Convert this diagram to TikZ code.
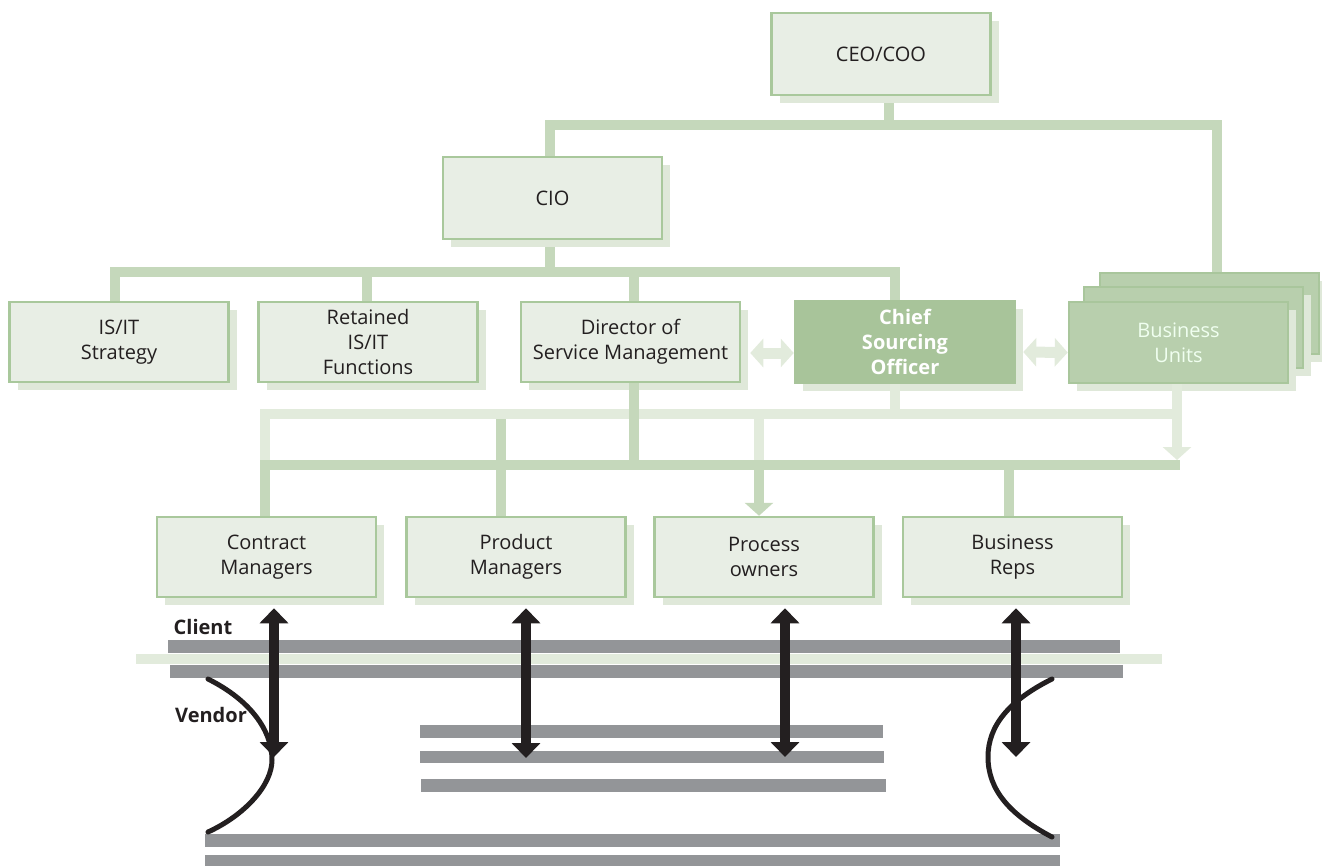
\documentclass[tikz,border=0pt]{standalone}
\usepackage{fontspec}
\setmainfont{Open Sans}
\usetikzlibrary{arrows.meta,shadows}
\definecolor{boxfill}{HTML}{E8EEE5}
\definecolor{boxline}{HTML}{A9C89C}
\definecolor{shade}{HTML}{DFE8D9}
\definecolor{csofill}{HTML}{A8C49A}
\definecolor{bufill}{HTML}{B8CFAD}
\definecolor{buline}{HTML}{A9C69C}
\definecolor{dkconn}{HTML}{C5D8BB}
\definecolor{ltconn}{HTML}{E2EBDC}
\definecolor{barg}{HTML}{939598}
\definecolor{ink}{HTML}{231F20}
\begin{document}
\begin{tikzpicture}[x=1pt,y=-1pt,
  box/.style={draw=boxline, line width=2.5pt, fill=boxfill,
    minimum width=219pt, minimum height=80pt, inner sep=0pt, align=center,
    text=ink, font=\fontsize{20}{25}\selectfont,
    general shadow={fill=shade, shadow xshift=8pt, shadow yshift=-8pt}},
  csobox/.style={draw=csofill, fill=csofill, text=white,
    font=\fontsize{20}{25}\selectfont\bfseries},
  bubox/.style={draw=buline, fill=bufill, text=white!94!green},
  dk/.style={draw=dkconn, line width=10pt, line join=miter},
  lt/.style={draw=ltconn, line width=10pt, line join=miter},
  ltarrow/.style={draw=ltconn, line width=11pt,
    {Triangle[width=28pt,length=13pt]}-{Triangle[width=28pt,length=13pt]}},
  blk/.style={draw=ink, line width=10pt,
    {Triangle[width=28pt,length=15pt]}-{Triangle[width=28pt,length=15pt]}},
  curve/.style={draw=ink, line width=5pt, line cap=round},
  side/.style={text=ink, font=\fontsize{20}{24}\selectfont\bfseries, inner sep=0pt}
]
\useasboundingbox (0,0) rectangle (1322,865);

% ---- client / vendor interface bars ----
\fill[barg] (168,640) rectangle (1120,653);
\fill[ltconn] (136,654) rectangle (1162,664);
\fill[barg] (170,665) rectangle (1123,678);
\fill[barg] (420,725) rectangle (883,738);
\fill[barg] (420,751) rectangle (884,763);
\fill[barg] (421,779) rectangle (886,792);
\fill[barg] (205,834) rectangle (1060,847);
\fill[barg] (205,855) rectangle (1060,868);

% ---- junction points ----
\coordinate (j1) at (889,125);
\coordinate (j2) at (550,272);
\coordinate (l1) at (265,414);
\coordinate (d1) at (265,465);

% ---- upper connectors (drawn first, boxes cover their ends) ----
\draw[dk] (j1) -- (889,96);
\draw[dk] (550,157) |- (j1) -| (1217,273);
\draw[dk] (550,239) -- (j2);
\draw[dk] (115,302) |- (j2) -| (895,302);
\draw[dk] (367,302) -- (367,272);
\draw[dk] (634,302) -- (634,272);

% ---- organisation boxes ----
\node[box, minimum height=82pt] (ceo) at (881,54) {CEO/COO};
\node[box, minimum height=82pt] (cio) at (552.5,198) {CIO};
\node[box] (strat) at (119,342) {IS/IT\\Strategy};
\node[box] (ret) at (368,342) {Retained\\IS/IT\\Functions};
\node[box] (dir) at (630.5,342) {Director of\\Service Management};
\node[box, csobox, minimum width=220pt, minimum height=82pt] (cso) at (905,342) {Chief\\Sourcing\\Officer};
\node[box, bubox, minimum height=81pt] (bu3) at (1209.5,313.5) {};
\node[box, bubox, minimum height=81pt] (bu2) at (1193.5,327.5) {};
\node[box, bubox, minimum height=81pt] (bu) at (1178.5,342.5) {Business\\Units};

\node[box] (contract) at (266.5,557) {Contract\\Managers};
\node[box] (prod) at (516,557) {Product\\Managers};
\node[box] (proc) at (764,557) {Process\\owners};
\node[box] (brep) at (1012.5,557) {Business\\Reps};

% ---- peer links ----
\draw[ltarrow] ([xshift=9pt,yshift=-11pt]dir.east) -- ([yshift=-11pt]cso.west);
\draw[ltarrow] ([xshift=7pt,yshift=-10pt]cso.east) -- ([yshift=-10pt]bu.west);

% ---- lower connectors: light (sourcing) level ----
\draw[lt] (d1) -- (l1) -- (1177,414);
\draw[lt] ([xshift=-10pt]cso.south) -- (895,414);
\draw[lt] (759,414) -- (759,465);
\draw[lt, -{Triangle[width=28pt,length=13pt]}] ([xshift=-1.5pt]bu.south) -- (1177,460);

% ---- lower connectors: dark (management) level ----
\draw[dk] ([xshift=-1.5pt]contract.north) |- (1180,465);
\draw[dk] ([xshift=3.5pt]dir.south) -- (634,465);
\draw[dk] (501,419) -- ([xshift=-15pt]prod.north);
\draw[dk, -{Triangle[width=28pt,length=13pt]}] (759,465) -- ([xshift=-5pt]proc.north);
\draw[dk] (1009,465) -- ([xshift=-3.5pt]brep.north);

% ---- client / vendor interaction arrows ----
\coordinate (v1) at (274,757);
\coordinate (v2) at (526,758);
\coordinate (v3) at (785,757);
\coordinate (v4) at (1016,757);
\draw[blk] ([xshift=7.5pt,yshift=-10pt]contract.south) -- (v1);
\draw[blk] ([xshift=10pt,yshift=-10pt]prod.south) -- (v2);
\draw[blk] ([xshift=21pt,yshift=-10pt]proc.south) -- (v3);
\draw[blk] ([xshift=3.5pt,yshift=-10pt]brep.south) -- (v4);

% ---- vendor boundary curves ----
\draw[curve] (208,679) .. controls (250,700) and (272,730) .. (272,760)
  .. controls (272,785) and (245,815) .. (208,832);
\draw[curve] (1052,679) .. controls (1010,700) and (988,725) .. (988,757)
  .. controls (988,790) and (1010,815) .. (1052,837);

% ---- side labels ----
\node[side] (client) at (203,627) {Client};
\node[side] (vendor) at (211,715) {Vendor};
\end{tikzpicture}
\end{document}
